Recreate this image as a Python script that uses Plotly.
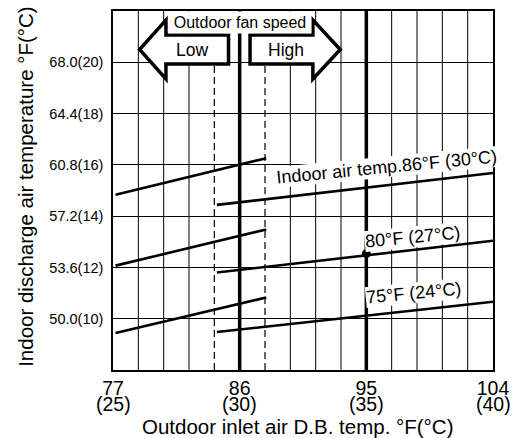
import plotly.graph_objects as go

# ---------------- data (both axes in °C; labels show °F(°C)) ----------------
outdoor_low_c = [25.1, 31.05]     # outdoor fan "Low" operating range
outdoor_high_c = [29.1, 40.0]     # outdoor fan "High" operating range
series_names = ["Indoor air temp.86°F (30°C)", "80°F (27°C)", "75°F (24°C)"]
discharge_low_86 = [14.83, 16.26]
discharge_low_80 = [12.07, 13.48]
discharge_low_75 = [9.44, 10.83]
discharge_high_86 = [14.44, 15.68]
discharge_high_80 = [11.80, 13.04]
discharge_high_75 = [9.48, 10.66]
rated_x = [35.0]
rated_y = [12.54]
x_tick_c = [25, 30, 35, 40]
x_tick_f = ["77", "86", "95", "104"]
x_tick_c_text = ["(25)", "(30)", "(35)", "(40)"]
y_tick_c = [10, 12, 14, 16, 18, 20]
y_tick_text = ["50.0(10)", "53.6(12)", "57.2(14)", "60.8(16)", "64.4(18)", "68.0(20)"]
x_grid_c = [26, 27, 28, 32, 33, 34, 36, 37, 38, 39]
switch_c = [29, 31]
thick_c = [30, 35]

X_RANGE = [25, 40]
Y_RANGE = [8, 22]

FONT = "Liberation Sans, Arial, Helvetica, sans-serif"
BLACK = "black"

fig = go.Figure()

low_sets = [discharge_low_86, discharge_low_80, discharge_low_75]
high_sets = [discharge_high_86, discharge_high_80, discharge_high_75]
for name, lo, hi in zip(series_names, low_sets, high_sets):
    fig.add_trace(go.Scatter(x=outdoor_low_c, y=lo, mode="lines", name=name + " (Low)",
                             line=dict(color=BLACK, width=2.6)))
    fig.add_trace(go.Scatter(x=outdoor_high_c, y=hi, mode="lines", name=name + " (High)",
                             line=dict(color=BLACK, width=2.6)))

fig.add_trace(go.Scatter(x=rated_x, y=rated_y, mode="markers",
                         marker=dict(size=9, color=BLACK), name="rated"))

shapes = []
for c in x_grid_c:
    shapes.append(dict(type="line", xref="x", yref="y", x0=c, x1=c,
                       y0=Y_RANGE[0], y1=Y_RANGE[1],
                       line=dict(color=BLACK, width=1), layer="below"))
for c in switch_c:
    shapes.append(dict(type="line", xref="x", yref="y", x0=c, x1=c,
                       y0=Y_RANGE[0], y1=19.9,
                       line=dict(color=BLACK, width=1.2, dash="7px,4px"), layer="below"))
for c in thick_c:
    shapes.append(dict(type="line", xref="x", yref="y", x0=c, x1=c,
                       y0=Y_RANGE[0], y1=Y_RANGE[1],
                       line=dict(color=BLACK, width=3.5), layer="below"))


def arrow_path(tail, neck, tip, yc, body_half, head_half):
    pts = [(tail, yc + body_half), (neck, yc + body_half), (neck, yc + head_half),
           (tip, yc), (neck, yc - head_half), (neck, yc - body_half),
           (tail, yc - body_half)]
    return "M " + " L ".join(f"{x},{y}" for x, y in pts) + " Z"


for tail, neck, tip in [(29.56, 27.09, 26.05), (30.41, 32.89, 33.97)]:
    shapes.append(dict(type="path", xref="x", yref="y",
                       path=arrow_path(tail, neck, tip, 20.5, 0.565, 1.15),
                       fillcolor="white", line=dict(color=BLACK, width=3.5),
                       layer="above"))

annotations = []
annotations.append(dict(text="Outdoor fan speed", x=30, y=21.108, xref="x", yref="y",
                        xanchor="center", yanchor="bottom", showarrow=False,
                        bgcolor="white", borderpad=2, width=138,
                        font=dict(family=FONT, size=16, color=BLACK)))
annotations.append(dict(text="Low", x=28.13, y=20.49, xref="x", yref="y",
                        showarrow=False, font=dict(family=FONT, size=17.5, color=BLACK)))
annotations.append(dict(text="High", x=31.84, y=20.49, xref="x", yref="y",
                        showarrow=False, font=dict(family=FONT, size=17.5, color=BLACK)))

label_pos = [(35.8, 15.9), (36.82, 13.2), (36.87, 11.01)]
for name, (lx, ly) in zip(series_names, label_pos):
    annotations.append(dict(text=name, x=lx, y=ly, xref="x", yref="y",
                            showarrow=False, textangle=-5.5, bgcolor="white",
                            borderpad=0, height=20,
                            font=dict(family=FONT, size=18, color=BLACK)))

for c, t in zip(x_tick_c, x_tick_c_text):
    annotations.append(dict(text=t, x=c, y=-0.0956, xref="x", yref="paper",
                            xanchor="center", yanchor="middle", showarrow=False,
                            font=dict(family=FONT, size=19.5, color=BLACK)))

annotations.append(dict(text="Outdoor inlet air D.B. temp. °F(°C)", x=0.4845, y=-0.1565,
                        xref="paper", yref="paper", xanchor="center", yanchor="middle",
                        showarrow=False, font=dict(family=FONT, size=20.5, color=BLACK)))
annotations.append(dict(text="Indoor discharge air temperature °F(°C)", x=-0.232, y=0.5097,
                        xref="paper", yref="paper", xanchor="center", yanchor="middle",
                        textangle=-90, showarrow=False,
                        font=dict(family=FONT, size=20.5, color=BLACK)))

fig.update_layout(
    width=518, height=438,
    margin=dict(l=113, r=17, t=9, b=68),
    paper_bgcolor="white", plot_bgcolor="white",
    showlegend=False, hovermode=False,
    shapes=shapes, annotations=annotations,
    font=dict(family=FONT, color=BLACK),
    xaxis=dict(range=X_RANGE, tickvals=x_tick_c, ticktext=x_tick_f,
               showgrid=False, zeroline=False, showline=True, mirror=True,
               linecolor=BLACK, linewidth=1.5, ticks="",
               tickfont=dict(family=FONT, size=19.5, color=BLACK)),
    yaxis=dict(range=Y_RANGE, tickvals=y_tick_c, ticktext=y_tick_text,
               showgrid=True, gridcolor=BLACK, gridwidth=1, zeroline=False,
               showline=True, mirror=True, linecolor=BLACK, linewidth=1.5,
               ticks="", ticklabelstandoff=5,
               tickfont=dict(family=FONT, size=14.5, color=BLACK)),
)

fig.write_html("out.html", config={"displayModeBar": False},
               post_script="document.body.style.margin='0px';")
